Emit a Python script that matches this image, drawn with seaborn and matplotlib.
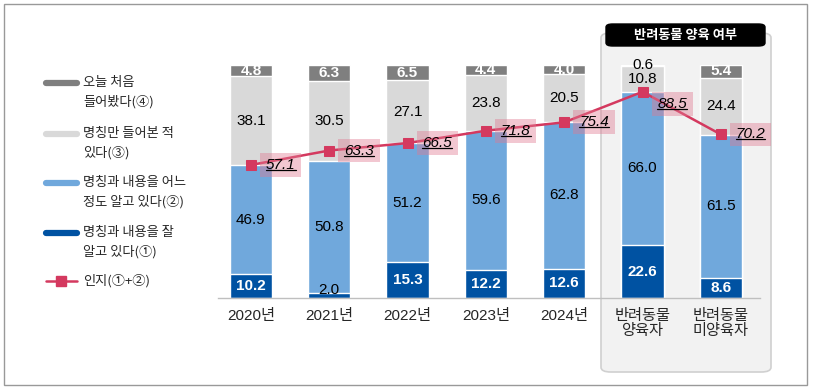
import numpy as np
import pandas as pd
import matplotlib
matplotlib.use("Agg")
import matplotlib.pyplot as plt
import seaborn as sns
from matplotlib.patches import FancyBboxPatch, Rectangle
from matplotlib.lines import Line2D

# ── Data ───────────────────────────────────────────────────────────────
categories = ["2020년", "2021년", "2022년", "2023년", "2024년",
              "반려동물\n양육자", "반려동물\n미양육자"]
know_well = [10.2, 2.0, 15.3, 12.2, 12.6, 22.6, 8.6]      # ①
know_some = [46.9, 50.8, 51.2, 59.6, 62.8, 66.0, 61.5]    # ②
heard_only = [38.1, 30.5, 27.1, 23.8, 20.5, 10.8, 24.4]   # ③
first_time = [4.8, 6.3, 6.5, 4.4, 4.0, 0.6, 5.4]          # ④
aware = [57.1, 63.3, 66.5, 71.8, 75.4, 88.5, 70.2]        # ①+②

legend_labels = ["오늘 처음\n들어봤다(④)", "명칭만 들어본 적\n있다(③)",
                 "명칭과 내용을 어느\n정도 알고 있다(②)", "명칭과 내용을 잘\n알고 있다(①)",
                 "인지(①+②)"]

C_FIRST = "#7f7f7f"
C_HEARD = "#d9d9d9"
C_SOME = "#70a8dc"
C_WELL = "#0052a2"
C_LINE = "#d4395f"

sns.set_theme(style="white")
plt.rcParams["font.family"] = ["Liberation Sans", "Noto Sans CJK KR", "DejaVu Sans"]
KR = ["Noto Sans CJK KR", "DejaVu Sans"]

# 100% stacked shares (chart is normalised per bar)
seg = np.array([know_well, know_some, heard_only, first_time])
share = seg / seg.sum(axis=0) * 100
cum = np.cumsum(share, axis=0)

df = pd.DataFrame({"cat": categories,
                   "c1": cum[0], "c2": cum[1], "c3": cum[2], "c4": cum[3]})

W, H = 817, 392
fig = plt.figure(figsize=(W / 100, H / 100), dpi=100)

def fx(px):
    return px / W

def fy(py):
    return 1 - py / H

# outer frame
fig.add_artist(Rectangle((fx(4), fy(385)), fx(803), (381) / H, transform=fig.transFigure,
                         fill=False, edgecolor="#999999", lw=1.0, zorder=0))
# grey panel for pet ownership group
fig.add_artist(FancyBboxPatch((fx(601), fy(372)), fx(170), 339 / H,
                              boxstyle="round,pad=0,rounding_size=0.012",
                              transform=fig.transFigure, facecolor="#f2f2f2",
                              edgecolor="#d0d0d0", lw=1.2, zorder=0))
fig.add_artist(FancyBboxPatch((fx(606), fy(46)), fx(159), 22 / H,
                              boxstyle="round,pad=0,rounding_size=0.008",
                              transform=fig.transFigure, facecolor="black",
                              edgecolor="black", lw=1, zorder=1))
fig.text(fx(685.5), fy(35), "반려동물 양육 여부", color="white", fontsize=9.5,
         fontweight="bold", ha="center", va="center", family=KR, zorder=2)

ax = fig.add_axes([fx(218), fy(298), fx(542), 233 / H])
ax.patch.set_visible(False)
ax.set_zorder(2)

width = 0.54
for col, color in [("c4", C_FIRST), ("c3", C_HEARD), ("c2", C_SOME), ("c1", C_WELL)]:
    sns.barplot(data=df, x="cat", y=col, color=color, width=width, ax=ax,
                edgecolor="white", linewidth=1.0, saturation=1)

ax.set_xlim(-0.42, 6.5)
ax.set_ylim(0, 100)
ax.set_xlabel("")
ax.set_ylabel("")
ax.set_yticks([])
sns.despine(ax=ax, left=True)
ax.spines["bottom"].set_color("#bfbfbf")
ax.spines["bottom"].set_linewidth(1.0)
ax.tick_params(axis="x", length=0, pad=8)
ax.set_xticks(range(len(categories)))
ax.set_xticklabels(categories, fontsize=11, linespacing=1.05)

# segment labels
for i in range(len(categories)):
    bottoms = [0, cum[0][i], cum[1][i], cum[2][i]]
    vals = [know_well[i], know_some[i], heard_only[i], first_time[i]]
    for k, (b, s, v) in enumerate(zip(bottoms, share[:, i], vals)):
        y = b + s / 2
        color, weight = "black", "normal"
        if k in (0, 3):
            color, weight = "white", "bold"
        if k == 0 and v < 5:
            color, weight, y = "black", "normal", 3.4
        if k == 3 and v < 2:
            color, weight, y = "black", "normal", 100.2
        ax.text(i, y, f"{v:.1f}", ha="center", va="center", fontsize=11,
                color=color, fontweight=weight, zorder=5, clip_on=False)

# awareness line
x = np.arange(len(categories))
sns.lineplot(x=x, y=aware, color=C_LINE, lw=1.8, marker="s", markersize=7,
             markeredgecolor=C_LINE, ax=ax, zorder=6)

# pink value boxes
box_dy = [0, 0, 0, 0, 0, -5.4, 0]
txts = []
for i, v in enumerate(aware):
    yc = v + box_dy[i]
    ax.add_patch(Rectangle((i + 0.115, yc - 5.1), 0.53, 10.2, facecolor="#e07a92",
                           alpha=0.42, edgecolor="none", zorder=7, clip_on=False))
    t = ax.text(i + 0.38, yc, f"{v:.1f}", ha="center", va="center", fontsize=11,
                style="italic", color="black", zorder=8, clip_on=False)
    txts.append(t)

# legend (manual, figure coordinates)
leg_y = [83, 134, 183, 233, 281]
colors = [C_FIRST, C_HEARD, C_SOME, C_WELL]
for yy, c, lab in zip(leg_y[:4], colors, legend_labels[:4]):
    fig.add_artist(Line2D([fx(46), fx(77)], [fy(yy), fy(yy)], color=c, lw=4.5,
                          transform=fig.transFigure))
    fig.text(fx(83), fy(yy - 7), lab, fontsize=9.5, va="top", ha="left",
             linespacing=1.55, family=KR)
fig.add_artist(Line2D([fx(46), fx(77)], [fy(281), fy(281)], color=C_LINE, lw=1.8,
                      transform=fig.transFigure))
fig.add_artist(Line2D([fx(61.5)], [fy(281)], color=C_LINE, marker="s", markersize=7,
                      lw=0, transform=fig.transFigure))
fig.text(fx(83), fy(281), legend_labels[4], fontsize=9.5, va="center", ha="left",
         family=KR)

# underline the italic values
fig.canvas.draw()
renderer = fig.canvas.get_renderer()
inv = fig.transFigure.inverted()
for t in txts:
    bb = t.get_window_extent(renderer)
    (x0, y0), (x1, _) = inv.transform([(bb.x0, bb.y0 + 2), (bb.x1, bb.y0)])
    fig.add_artist(Line2D([x0, x1], [y0, y0], color="black", lw=0.9, zorder=9,
                          transform=fig.transFigure))

fig.savefig("out.png", dpi=100)
